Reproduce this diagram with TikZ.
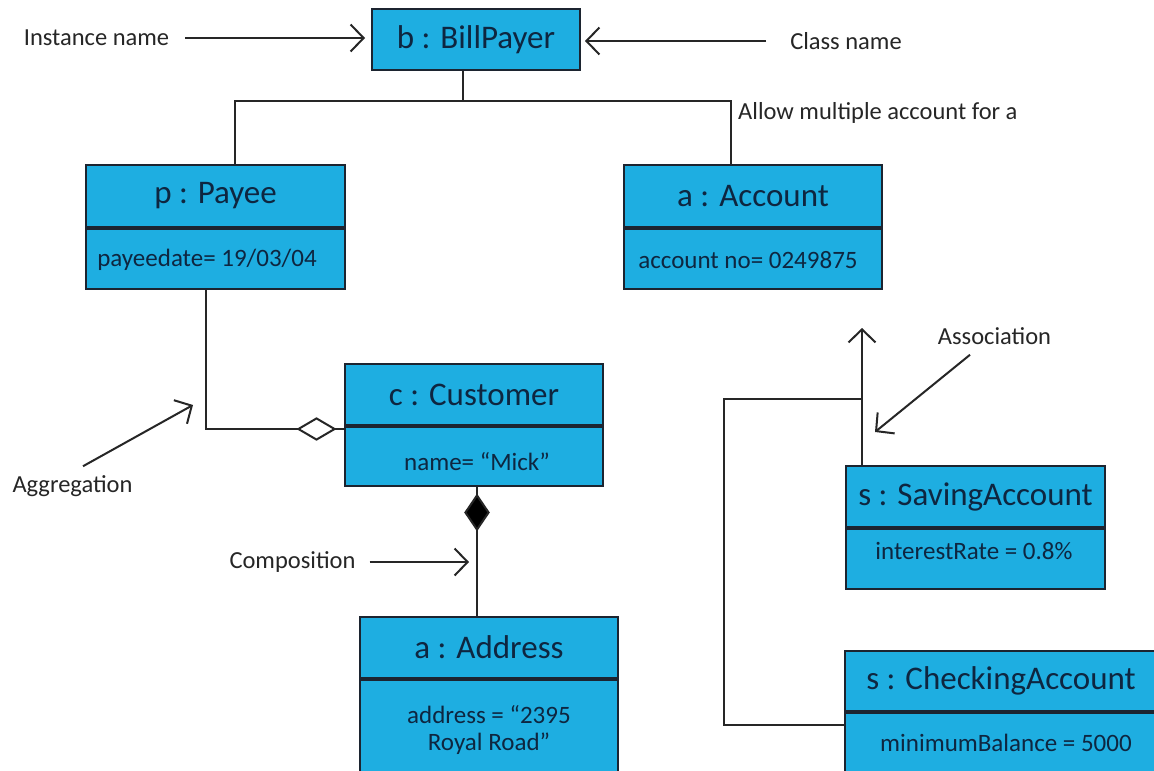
\documentclass[tikz,border=0pt]{standalone}
\usepackage{fontspec}
\setmainfont{Carlito}
\usetikzlibrary{arrows.meta,shapes.geometric,calc}
\definecolor{boxfill}{RGB}{30,174,225}
\definecolor{boxline}{RGB}{28,36,48}
\definecolor{boxtext}{RGB}{14,38,64}
\definecolor{ink}{RGB}{38,38,38}
\begin{document}
\begin{tikzpicture}[x=1pt,y=-1pt,
  part/.style={draw=boxline, fill=boxfill, line width=2pt, inner sep=0pt,
    anchor=north west, text=boxtext, font=\fontsize{33}{36}\selectfont},
  attr/.style={text=boxtext, inner sep=0pt, font=\fontsize{25}{27}\selectfont, align=center},
  lbl/.style={text=ink, inner sep=0pt, font=\fontsize{24.5}{27}\selectfont},
  wire/.style={draw=ink, line width=2pt},
  ptr/.style={wire, -{Straight Barb[length=13pt,width=27pt]}},
  diamark/.style={diamond, draw=ink, line width=2pt, inner sep=0pt},
]
\useasboundingbox (0,0) rectangle (1154,771);
\fill[white] (0,0) rectangle (1154,771);

% object boxes: a name part and an attribute part
\node[part, minimum width=208, minimum height=61] (bp) at (371,8) {b : BillPayer};

\node[part, minimum width=259, minimum height=62] (payH) at (85,164) {p : Payee};
\node[part, minimum width=259, minimum height=60] (payB) at (payH.south west) {};
\node[attr] (payA) at (207,260) {payeedate= 19/03/04};

\node[part, minimum width=258, minimum height=62] (accH) at (623,164) {a : Account};
\node[part, minimum width=258, minimum height=60] (accB) at (accH.south west) {};
\node[attr] (accA) at (748,260) {account no= 0249875};

\node[part, minimum width=258, minimum height=61] (cusH) at (344,363) {c : Customer};
\node[part, minimum width=258, minimum height=59] (cusB) at (cusH.south west) {};
\node[attr] (cusA) at (477,462) {name= “Mick”};

\node[part, minimum width=258, minimum height=61] (adrH) at (359,616) {a : Address};
\node[part, minimum width=258, minimum height=100] (adrB) at (adrH.south west) {};
\node[attr] (adrA) at (489,730) {address = “2395\\Royal Road”};

\node[part, minimum width=259, minimum height=61] (savH) at (845,465) {s : SavingAccount};
\node[part, minimum width=259, minimum height=60] (savB) at (savH.south west) {};
\node[attr] (savA) at (974,551) {interestRate = 0.8\%};

\node[part, minimum width=312, minimum height=60] (chkH) at (844,650) {s : CheckingAccount};
\node[part, minimum width=312, minimum height=65] (chkB) at (chkH.south west) {};
\node[attr] (chkA) at (1006,743) {minimumBalance = 5000};

% BillPayer links to Payee and Account
\coordinate (busM) at (463,100.5);
\coordinate (busL) at (235,100.5);
\coordinate (busR) at (731,100.5);
\draw[wire] (busM |- bp.south) -- (busM);
\draw[wire] (payH.north -| busL) -- (busL) -- (busR) -- (accH.north -| busR);

% aggregation Payee -> Customer
\coordinate (aggY) at (0,428.5);
\coordinate (aggX) at (206,0);
\draw[wire] (payB.south -| aggX) |- (cusB.west |- aggY);
\node[diamark, fill=white, minimum width=37, minimum height=22] (aggMark) at (316.5,429) {};

% composition Customer -> Address
\coordinate (compX) at (477,0);
\draw[wire] (adrH.north -| compX) -- (cusB.south -| compX);
\node[diamark, fill=black, minimum width=24, minimum height=35] (compMark) at (477,512.5) {};

% association of the two account kinds
\coordinate (assocEnd) at (862,328);
\coordinate (assocJ) at (862,399);
\coordinate (loopL) at (724,725);
\draw[ptr] (savH.north -| assocEnd) -- (assocEnd);
\draw[wire] (assocJ) -| (loopL) -- (chkB.west |- loopL);

% annotations
\node[lbl] (lblInst) at (96.5,38) {Instance name};
\draw[ptr, shorten <=16pt, shorten >=6pt] (lblInst.east) -- (bp.west |- lblInst.east);

\node[lbl] (lblCls) at (846,41) {Class name};
\draw[ptr, shorten <=24pt, shorten >=4pt] (lblCls.west) -- (bp.east |- lblCls.west);

\node[lbl, anchor=west] (lblMulti) at (738,113) {Allow multiple account for a};

\node[lbl] (lblAgg) at (72.5,486) {Aggregation};
\coordinate (aggTip) at (193,405);
\draw[ptr] ($(lblAgg.north)+(10.5,-9)$) -- (aggTip);

\node[lbl] (lblComp) at (292.5,562) {Composition};
\coordinate (compTip) at (469,562);
\draw[ptr, shorten <=14pt] (lblComp.east) -- (compTip);

\node[lbl] (lblAssoc) at (994.5,336) {Association};
\coordinate (assocTip) at (875,432);
\draw[ptr] ($(lblAssoc.south)+(-24.5,10)$) -- (assocTip);
\end{tikzpicture}
\end{document}
